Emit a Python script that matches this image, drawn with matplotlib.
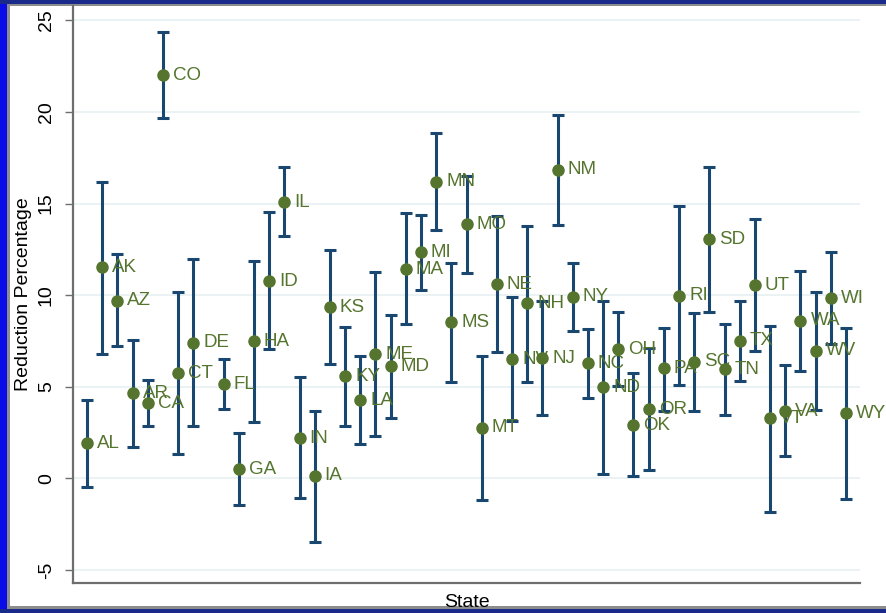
import numpy as np
import matplotlib
matplotlib.use("Agg")
import matplotlib.pyplot as plt
from matplotlib.patches import Rectangle

plt.rcParams['font.family'] = ['Liberation Sans', 'DejaVu Sans']

# --- Donnees : estimation et intervalle de confiance par etat ---------------
# (DC n'a pas d'estimation, sa position reste vide)
etats = ['AL', 'AK', 'AZ', 'AR', 'CA', 'CO', 'CT', 'DE', 'DC', 'FL',
         'GA', 'HA', 'ID', 'IL', 'IN', 'IA', 'KS', 'KY', 'LA', 'ME',
         'MD', 'MA', 'MI', 'MN', 'MS', 'MO', 'MT', 'NE', 'NV', 'NH',
         'NJ', 'NM', 'NY', 'NC', 'ND', 'OH', 'OK', 'OR', 'PA', 'RI',
         'SC', 'SD', 'TN', 'TX', 'UT', 'VT', 'VA', 'WA', 'WV', 'WI', 'WY']

reduction = [1.91, 11.52, 9.69, 4.64, 4.09, 22.01, 5.73, 7.40, np.nan, 5.15,
             0.51, 7.48, 10.77, 15.07, 2.18, 0.13, 9.33, 5.58, 4.27, 6.78,
             6.13, 11.42, 12.34, 16.19, 8.51, 13.86, 2.76, 10.59, 6.51, 9.55,
             6.55, 16.83, 9.91, 6.28, 4.97, 7.04, 2.91, 3.77, 6.00, 9.97,
             6.37, 13.06, 5.95, 7.51, 10.55, 3.28, 3.67, 8.60, 6.97, 9.83, 3.55]

borne_inf = [-0.46, 6.78, 7.24, 1.73, 2.87, 19.65, 1.31, 2.85, np.nan, 3.77,
             -1.46, 3.06, 7.06, 13.24, -1.09, -3.49, 6.22, 2.87, 1.86, 2.33,
             3.31, 8.42, 10.28, 13.55, 5.27, 11.22, -1.18, 6.88, 3.11, 5.27,
             3.46, 13.83, 8.04, 4.40, 0.23, 5.02, 0.13, 0.45, 3.69, 5.09,
             3.69, 9.10, 3.46, 5.33, 6.97, -1.86, 1.24, 5.88, 3.73, 7.31, -1.15]

borne_sup = [4.27, 16.19, 12.23, 7.53, 5.37, 24.34, 10.15, 11.95, np.nan, 6.50,
             2.46, 11.86, 14.52, 17.01, 5.55, 3.69, 12.46, 8.28, 6.69, 11.24,
             8.91, 14.46, 14.37, 18.83, 11.74, 16.50, 6.69, 14.30, 9.91, 13.77,
             9.68, 19.83, 11.77, 8.13, 9.68, 9.06, 5.77, 7.09, 8.19, 14.86,
             9.01, 17.01, 8.42, 9.68, 14.14, 8.33, 6.18, 11.33, 10.15, 12.34, 8.19]

graduations = [-5, 0, 5, 10, 15, 20, 25]

bleu = '#1a476f'
vert = '#55752f'
gris = '#6e6e6e'

x = np.arange(1, len(etats) + 1)
y = np.array(reduction)
err = np.vstack([y - np.array(borne_inf), np.array(borne_sup) - y])

# --- Figure ----------------------------------------------------------------
fig = plt.figure(figsize=(8.86, 6.13), dpi=100)
W, H = 886., 613.

# cadre bleu/gris autour du graphique
fig.patches.append(Rectangle((0, 0), 1, 1, transform=fig.transFigure,
                             facecolor='#0b0be8', edgecolor='none', zorder=-3))
fig.patches.append(Rectangle((0, 609 / H), 1, 4 / H, transform=fig.transFigure,
                             facecolor='#1a2a8a', edgecolor='none', zorder=-3))
fig.patches.append(Rectangle((0, 0), 1, 4 / H, transform=fig.transFigure,
                             facecolor='#1a2a8a', edgecolor='none', zorder=-3))
fig.patches.append(Rectangle((7 / W, 4 / H), 1, 605 / H, transform=fig.transFigure,
                             facecolor='#8c8c8c', edgecolor='none', zorder=-2))
fig.patches.append(Rectangle((9.5 / W, 7 / H), 1, 600 / H, transform=fig.transFigure,
                             facecolor='white', edgecolor='none', zorder=-1))

ax = fig.add_axes([73 / W, 30 / H, 787 / W, 577 / H])
ax.patch.set_alpha(0)

ax.errorbar(x, y, yerr=err, fmt='none', ecolor=bleu, elinewidth=2.2,
            capsize=4.5, capthick=2.2, zorder=2)
ax.plot(x, y, 'o', color=vert, markersize=8, zorder=3)

for xi, yi, lab in zip(x, y, etats):
    if np.isnan(yi):
        continue
    ax.annotate(lab, (xi, yi), xytext=(10, 0), textcoords='offset pixels',
                ha='left', va='center', color=vert, fontsize=13.5, zorder=4)

ax.set_xlim(0.08, 51.92)
ax.set_ylim(-5.71, 25.78)

ax.set_yticks(graduations)
ax.set_yticklabels([str(g) for g in graduations], rotation=90, va='center',
                   fontsize=14)
ax.set_xticks([])
ax.tick_params(axis='y', length=6, width=1, color=gris, pad=7)

for g in graduations:
    ax.axhline(g, color='#e8f0f2', lw=1.2, zorder=0)

for cote in ['top', 'right']:
    ax.spines[cote].set_visible(False)
for cote in ['left', 'bottom']:
    ax.spines[cote].set_color(gris)
    ax.spines[cote].set_linewidth(1.6)

ax.set_ylabel('Reduction Percentage', fontsize=14, labelpad=4)
ax.set_xlabel('State', fontsize=14, labelpad=8)

fig.savefig('out.png', dpi=100, facecolor=fig.get_facecolor())
